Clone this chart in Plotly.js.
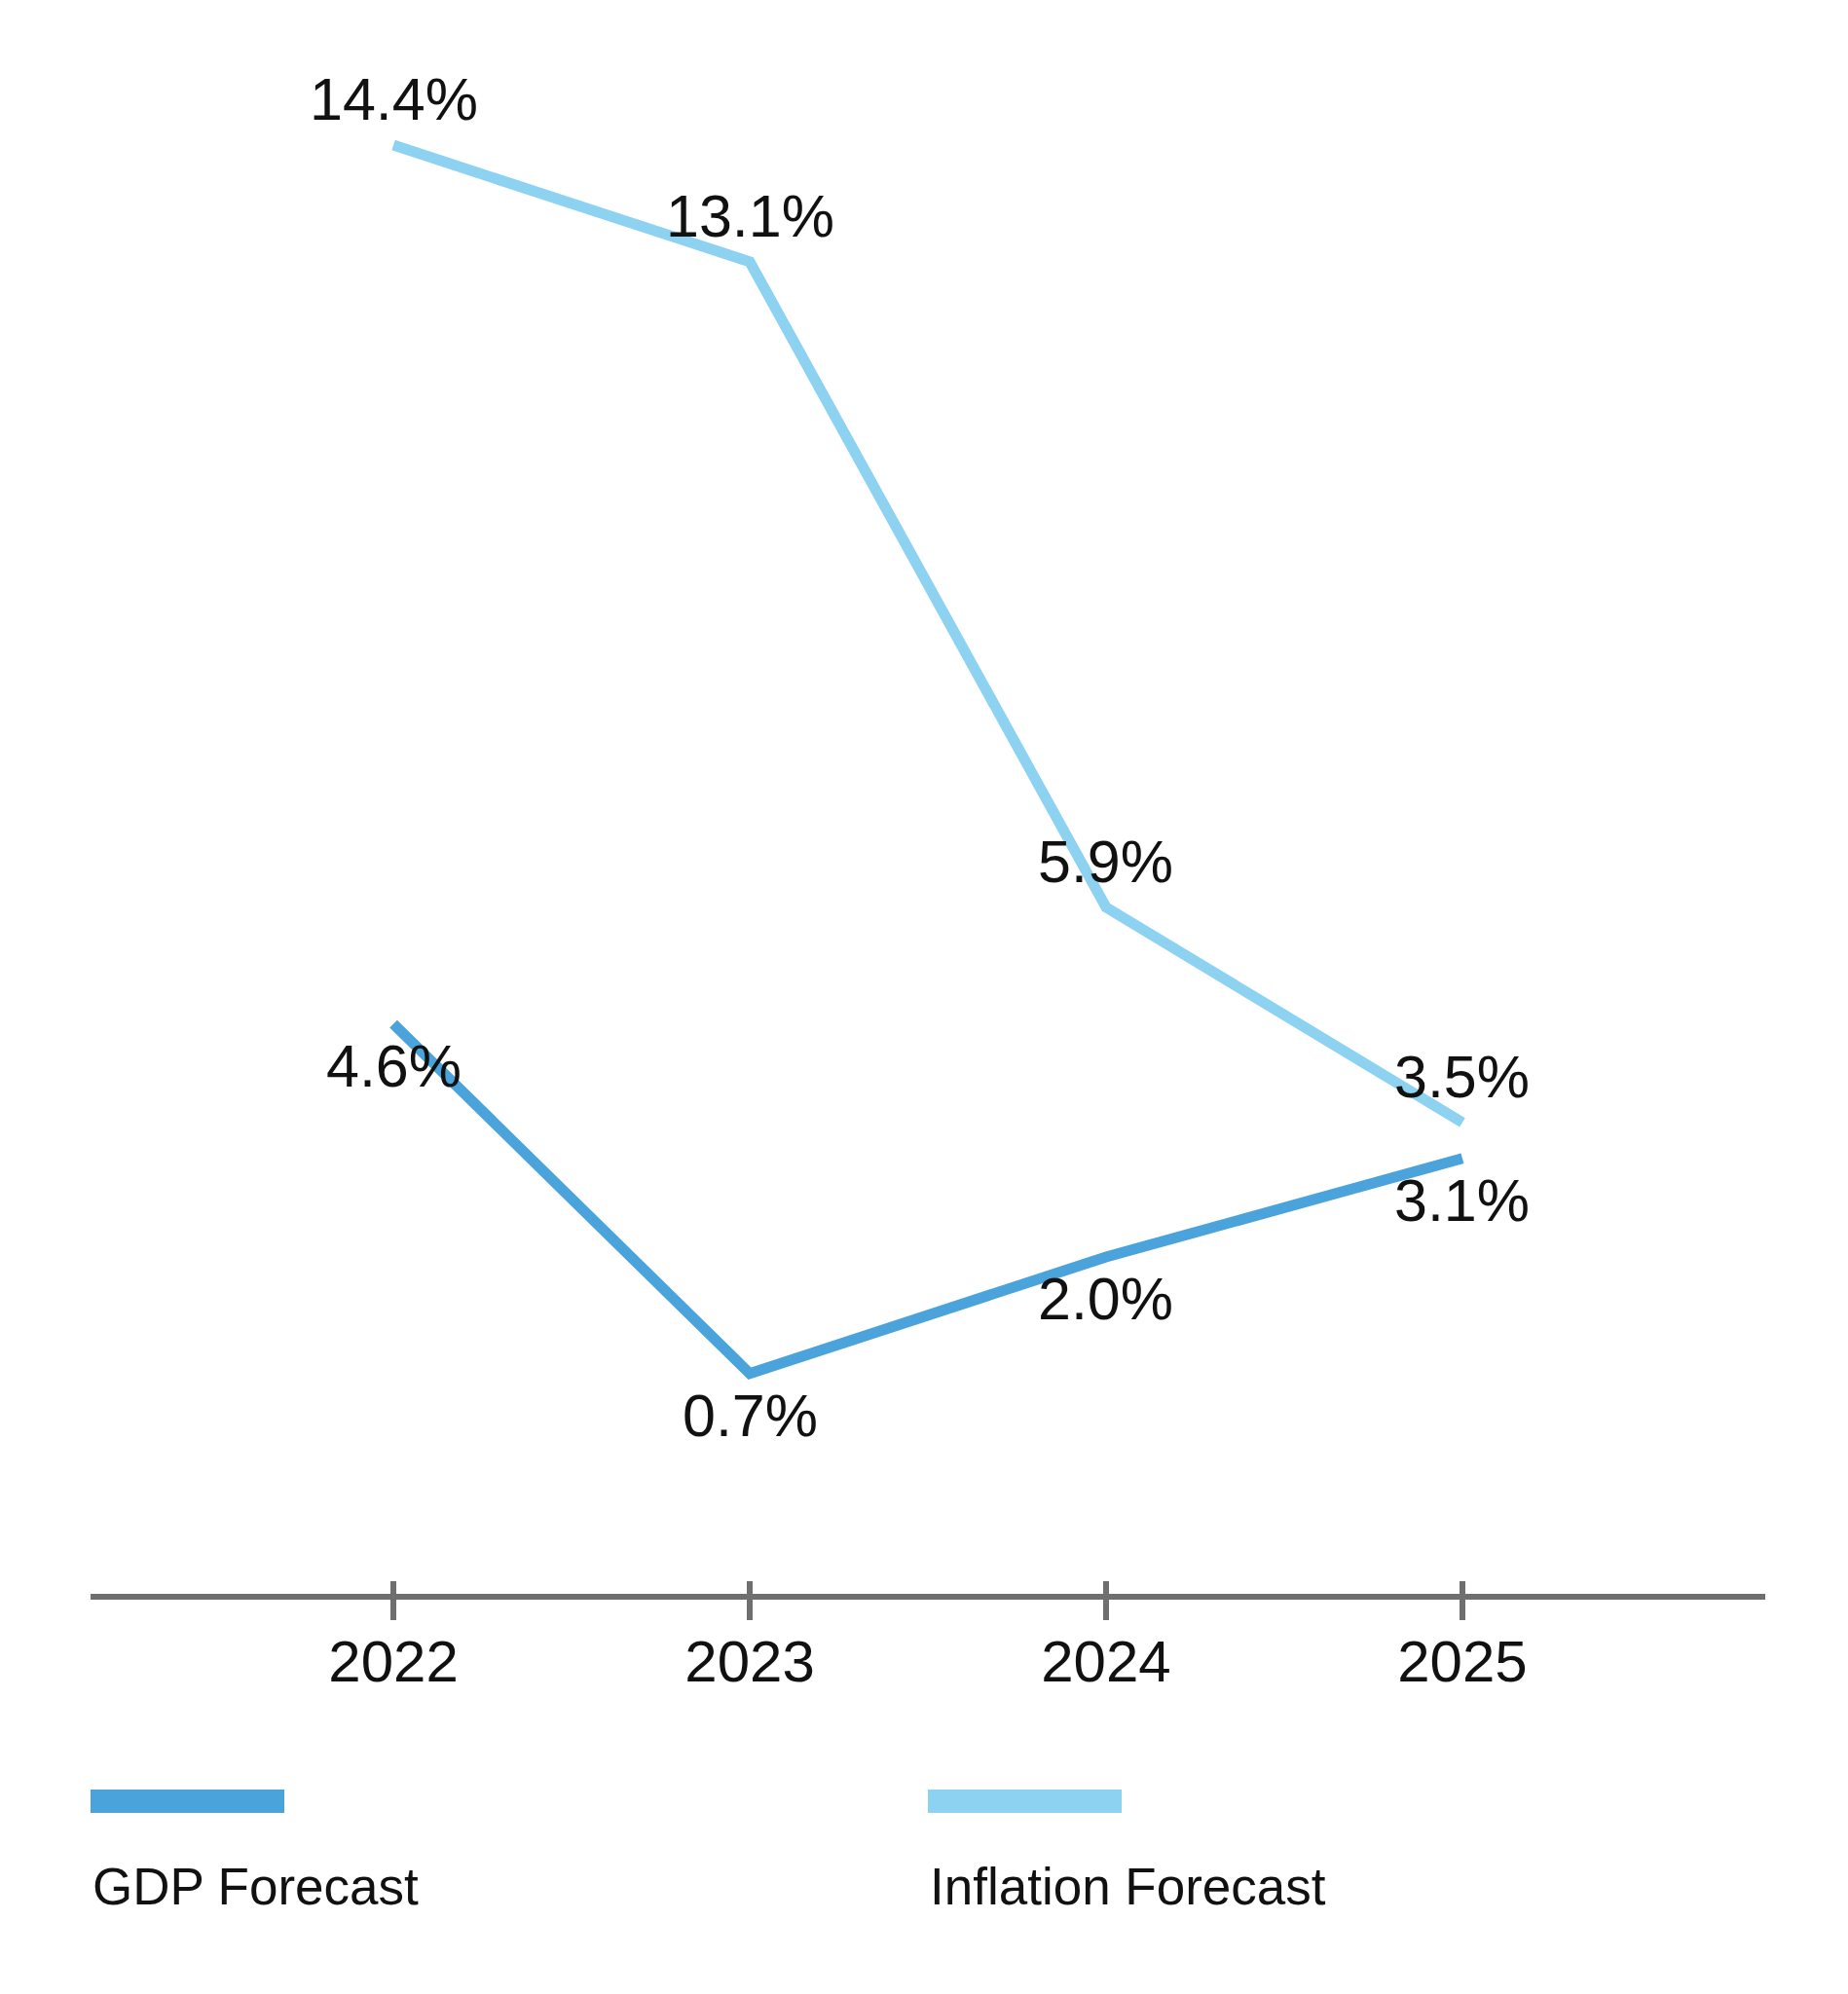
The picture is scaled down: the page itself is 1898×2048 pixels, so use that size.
<!DOCTYPE html>
<html>
<head>
<meta charset="utf-8">
<script src="https://cdn.plot.ly/plotly-3.0.1.min.js"></script>
<style>
  html, body { margin: 0; padding: 0; background: #ffffff; }
  #chart { width: 1898px; height: 2048px; }
</style>
</head>
<body>
<div id="chart"></div>
<script>
// ---- data ----
const years = ["2022", "2023", "2024", "2025"];
const gdpForecast = [4.6, 0.7, 2.0, 3.1];
const inflationForecast = [14.4, 13.1, 5.9, 3.5];
const seriesNames = ["GDP Forecast", "Inflation Forecast"];
const seriesColors = ["#4aa3db", "#8dd2f0"];

const FONT = "Liberation Sans, Arial, sans-serif";
const fmt = v => v.toFixed(1) + "%";

const traces = [
  {
    x: years, y: gdpForecast, name: seriesNames[0], type: "scatter", mode: "lines",
    line: { color: seriesColors[0], width: 11 }, showlegend: false, hoverinfo: "skip"
  },
  {
    x: years, y: inflationForecast, name: seriesNames[1], type: "scatter", mode: "lines",
    line: { color: seriesColors[1], width: 11 }, showlegend: false, hoverinfo: "skip"
  },
  // invisible trace to carry the outward ticks on the overlay axis
  {
    x: years, y: gdpForecast, xaxis: "x2", type: "scatter", mode: "lines",
    line: { width: 0, color: "rgba(0,0,0,0)" }, showlegend: false, hoverinfo: "skip"
  }
];

// value labels: GDP below its line, inflation above its line
// (category axes place annotations by category index)
const annotations = [];
years.forEach((yr, i) => {
  annotations.push({
    x: i, y: gdpForecast[i], xref: "x", yref: "y", text: fmt(gdpForecast[i]),
    showarrow: false, yshift: -43, font: { family: FONT, size: 61, color: "#111111" }
  });
  annotations.push({
    x: i, y: inflationForecast[i], xref: "x", yref: "y", text: fmt(inflationForecast[i]),
    showarrow: false, yshift: 47, font: { family: FONT, size: 61, color: "#111111" }
  });
});

// custom legend: swatch above the label
const legendX = [0, 0.5];
const shapes = [];
seriesNames.forEach((nm, i) => {
  shapes.push({
    type: "rect", xref: "paper", yref: "paper",
    x0: legendX[i], x1: legendX[i] + 0.1157, y0: -0.138, y1: -0.1233,
    fillcolor: seriesColors[i], line: { width: 0 }
  });
  annotations.push({
    x: legendX[i], y: -0.1844, xref: "paper", yref: "paper", xanchor: "left", yanchor: "middle",
    text: nm, showarrow: false, font: { family: FONT, size: 53, color: "#111111" }
  });
});

const xRange = [-0.85, 3.85];
const layout = {
  width: 1898, height: 2048,
  margin: { l: 93, r: 85, t: 7, b: 411 },
  paper_bgcolor: "#ffffff", plot_bgcolor: "#ffffff",
  showlegend: false,
  xaxis: {
    type: "category", range: xRange, showgrid: false, zeroline: false,
    showline: true, linecolor: "#6f6f6f", linewidth: 6,
    ticks: "inside", ticklen: 13, tickwidth: 6, tickcolor: "#6f6f6f",
    tickfont: { family: FONT, size: 60, color: "#111111" },
    ticklabelstandoff: 12
  },
  xaxis2: {
    type: "category", range: xRange, overlaying: "x", anchor: "y", side: "bottom",
    showgrid: false, zeroline: false, showline: false, showticklabels: false,
    ticks: "outside", ticklen: 26, tickwidth: 6, tickcolor: "#6f6f6f"
  },
  yaxis: {
    range: [-1.757, 15.943], showgrid: false, zeroline: false, showline: false,
    showticklabels: false, ticks: ""
  },
  annotations: annotations,
  shapes: shapes
};

Plotly.newPlot("chart", traces, layout, { staticPlot: true, displayModeBar: false });
</script>
</body>
</html>
